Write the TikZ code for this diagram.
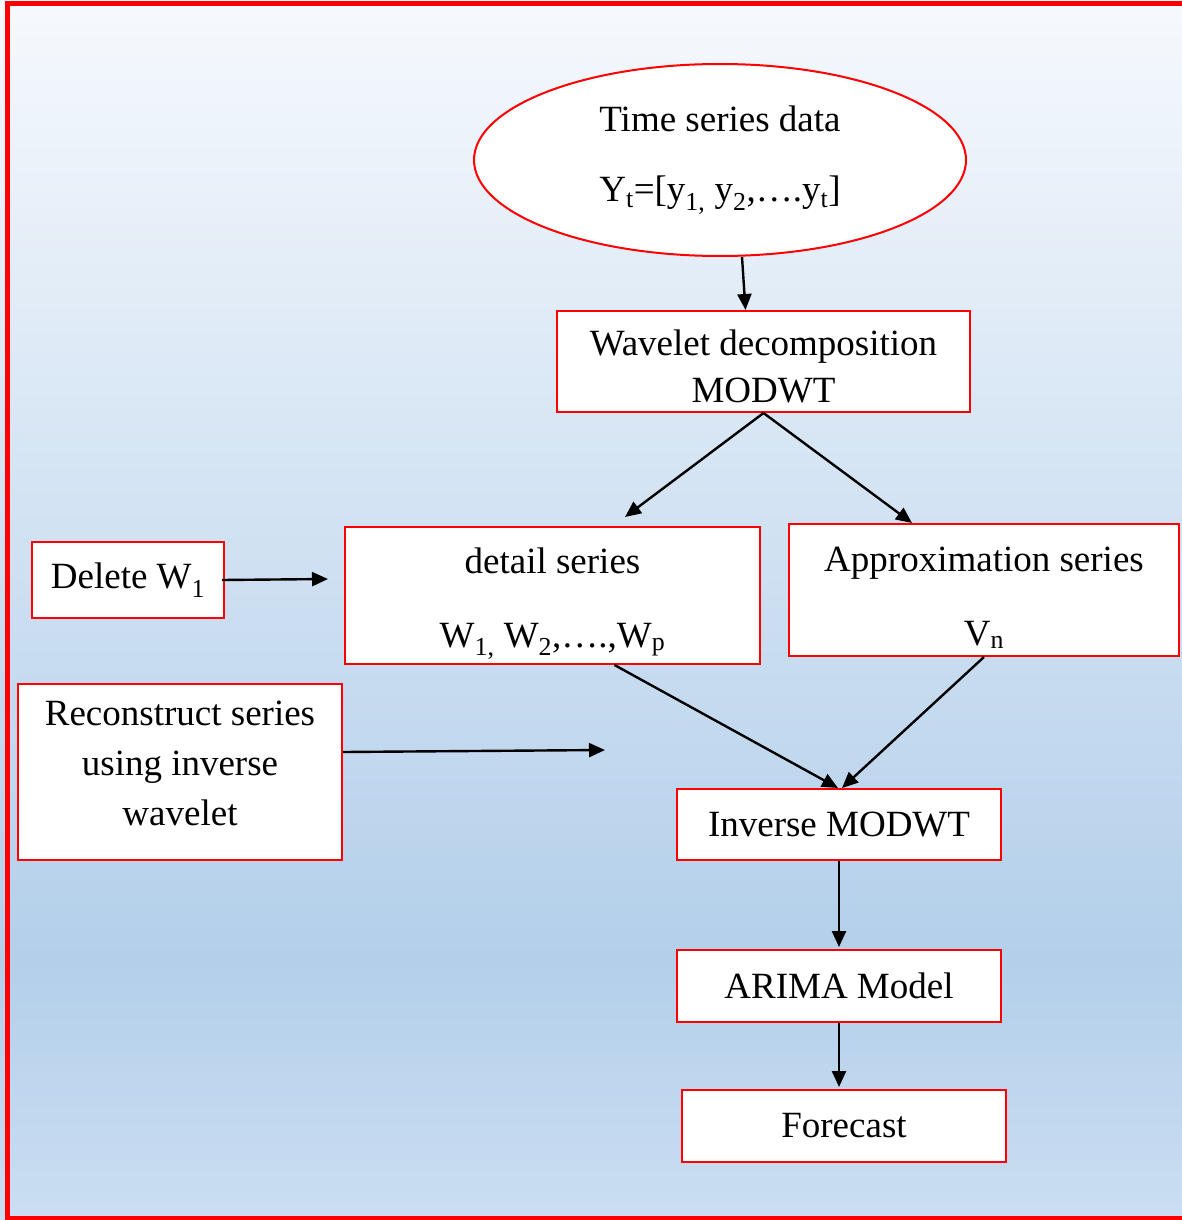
\documentclass[tikz,border=0pt]{standalone}
\usepackage{fontspec}
\setmainfont{Liberation Serif}
\usetikzlibrary{
    shapes.geometric,
    arrows.meta,
    calc
}
\definecolor{bgtop}{HTML}{F6F9FD}
\definecolor{bgmid}{HTML}{B3CFEA}
\definecolor{bgbot}{HTML}{CBDEF2}
\definecolor{frame red}{HTML}{FF0000}
\newcommand{\lift}[1]{\rule{0pt}{#1pt}}
\newcommand{\sinkd}[1]{\rule[-#1pt]{0pt}{1pt}}
\tikzset {
    box/.style = {draw = frame red, line width = 2pt, fill = white, inner sep = 0pt, align = center},
    data/.style = {ellipse, box},
    link/.style = {draw, line width = 2.4pt, -{Triangle[length = 16pt, width = 14pt]}},
    %
    big/.style = {font = \fontsize{37}{#1}\selectfont},
    big/.default = 44
}

\begin{document}
\begin{tikzpicture}[x = 1pt, y = -1pt]
    \useasboundingbox (0, 0) rectangle (1182, 1220);
    \shade [top color = bgtop, bottom color = bgmid] (0, 0) rectangle (1182, 960);
    \shade [top color = bgmid, bottom color = bgbot] (0, 959) rectangle (1182, 1220);
    \draw [frame red, line width = 5pt] (7, 3.5) rectangle (1200, 1218);
    %
    \node (data) [data, big = 70, minimum width = 492pt, minimum height = 192pt] at (720, 160)
        {Time series data\\Y\textsubscript{t}=[y\textsubscript{1,} y\textsubscript{2},….y\textsubscript{t}]};
    \node (wave) [box, big = 47, minimum width = 413pt, minimum height = 101pt] at (763.5, 361.5)
        {\lift{36}Wavelet decomposition\\MODWT};
    \node (detail) [box, big = 74, minimum width = 415pt, minimum height = 137pt] at (552.5, 595.5)
        {\lift{42}detail series\\W\textsubscript{1,} W\textsubscript{2},….,W\textsubscript{p}};
    \node (approx) [box, big = 74, minimum width = 390pt, minimum height = 132pt] at (984, 590)
        {\lift{40}Approximation series\\V\textsubscript{n}};
    \node (delete) [box, big, minimum width = 192pt, minimum height = 76pt] at (128, 580)
        {Delete W\textsubscript{1}};
    \node (recon) [box, big = 50, minimum width = 324pt, minimum height = 176pt] at (180, 772)
        {Reconstruct series\\using inverse\\wavelet\sinkd{18}};
    \node (inv) [box, big, minimum width = 324pt, minimum height = 71pt] at (839, 824.5)
        {Inverse MODWT};
    \node (arima) [box, big, minimum width = 324pt, minimum height = 72pt] at (839, 986)
        {ARIMA Model};
    \node (fore) [box, big, minimum width = 324pt, minimum height = 72pt] at (844, 1126)
        {Forecast};
    %
    \coordinate (dtip) at (625, 517);
    \coordinate (atip) at (912, 523);
    \coordinate (wtip) at (328, 579);
    \coordinate (rtip) at (605, 750);
    %
    \draw [link] ([xshift = 22pt]data.south) -- ([xshift = -18pt]wave.north);
    \draw [link] (wave.south) -- (dtip);
    \draw [link] (wave.south) -- (atip);
    \draw [link] ([xshift = -3pt]delete.east) -- (wtip);
    \draw [link] ([yshift = 20pt]recon.east) -- (rtip);
    \draw [link] ([xshift = 62pt]detail.south) -- ([xshift = -1pt]inv.north);
    \draw [link] (approx.south) -- ([xshift = 3pt]inv.north);
    \draw [link] (inv.south) -- ([yshift = 2pt]arima.north);
    \draw [link, shorten >= 2pt] (arima.south) -- (arima.south |- fore.north);
\end{tikzpicture}
\end{document}
